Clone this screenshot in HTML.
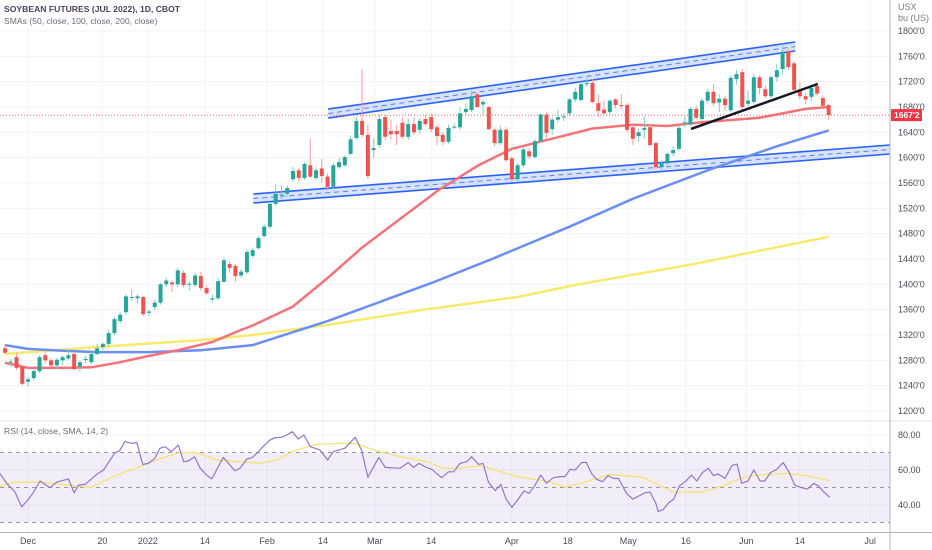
<!DOCTYPE html>
<html><head><meta charset="utf-8">
<style>
html,body{margin:0;padding:0;background:#fff;}
#wrap{position:relative;width:932px;height:550px;overflow:hidden;font-family:"Liberation Sans",sans-serif;}
svg text{font-family:"Liberation Sans",sans-serif;}
</style></head>
<body>
<div id="wrap">
<svg id="chart" width="932" height="550" xmlns="http://www.w3.org/2000/svg"></svg>
</div>
<script>
// ---- data ----
const candles = [
[1299,1305,1290,1292],[1277,1282,1270,1278],[1285,1292,1265,1268],[1270,1272,1240,1243],[1246,1254,1238,1250],
[1252,1266,1248,1263],[1263,1288,1260,1285],[1288,1292,1276,1280],[1280,1284,1268,1272],[1272,1284,1266,1281],
[1280,1288,1272,1285],[1283,1298,1280,1288],[1290,1292,1264,1266],[1270,1280,1262,1277],[1281,1288,1276,1282],
[1277,1294,1274,1290],[1290,1306,1288,1299],[1301,1308,1296,1306],[1306,1328,1302,1323],[1323,1348,1320,1345],
[1342,1356,1338,1352],[1356,1384,1352,1381],[1379,1392,1374,1380],[1378,1384,1370,1381],[1380,1382,1350,1353],
[1355,1360,1350,1357],[1364,1376,1360,1371],[1371,1402,1368,1400],[1400,1410,1396,1406],[1403,1406,1388,1400],
[1400,1426,1396,1422],[1418,1422,1395,1399],[1400,1404,1390,1401],[1399,1418,1396,1414],[1413,1420,1390,1394],
[1394,1398,1383,1386],[1376,1384,1372,1378],[1378,1410,1375,1405],[1404,1442,1402,1438],[1432,1436,1418,1426],
[1429,1432,1404,1413],[1414,1424,1410,1420],
[1419,1455,1416,1451],[1445,1458,1442,1454],[1457,1476,1455,1473],[1476,1496,1474,1491],[1491,1530,1488,1527],
[1527,1558,1524,1543],[1541,1556,1534,1542],[1543,1556,1538,1552],[1566,1585,1562,1579],[1580,1584,1562,1568],
[1568,1593,1565,1590],[1588,1630,1568,1570],[1568,1585,1564,1580],[1583,1598,1560,1571],[1570,1575,1548,1554],
[1554,1592,1552,1588],[1585,1600,1582,1593],[1588,1604,1585,1601],[1606,1635,1604,1629],[1631,1664,1628,1658],
[1658,1740,1632,1636],[1636,1652,1566,1571],[1612,1630,1600,1615],[1620,1668,1616,1661],[1664,1668,1628,1633],
[1642,1660,1628,1637],[1642,1652,1620,1637],[1655,1664,1630,1633],[1633,1662,1628,1653],
[1653,1664,1636,1640],[1644,1662,1638,1658],[1661,1668,1650,1653],[1664,1670,1640,1645],[1648,1652,1620,1634],
[1636,1640,1620,1625],[1625,1652,1622,1647],[1648,1654,1645,1649],[1648,1680,1644,1670],[1672,1686,1668,1677],
[1675,1706,1672,1697],[1700,1702,1678,1680],[1684,1692,1668,1688],[1680,1682,1644,1645],[1644,1648,1618,1623],
[1623,1650,1620,1644],[1644,1648,1594,1596],[1599,1602,1562,1566],[1566,1592,1562,1588],[1588,1616,1584,1613],
[1610,1614,1598,1602],[1601,1630,1598,1626],[1626,1670,1624,1668],[1668,1672,1630,1639],[1645,1664,1636,1660],
[1660,1676,1656,1664],[1664,1670,1658,1665],[1670,1694,1666,1692],[1692,1710,1688,1704],[1691,1720,1688,1716],
[1716,1726,1712,1718],[1718,1724,1686,1688],[1686,1700,1664,1674],[1676,1690,1668,1670],[1672,1693,1668,1690],
[1692,1694,1678,1683],[1683,1700,1676,1682],[1683,1686,1640,1644],[1648,1652,1620,1630],[1634,1646,1625,1640],
[1644,1665,1630,1647],[1648,1652,1618,1620],[1623,1625,1582,1585],[1585,1596,1580,1591],[1591,1608,1584,1606],
[1607,1618,1602,1612],[1614,1650,1610,1647],[1655,1665,1648,1656],[1653,1680,1650,1677],[1677,1682,1660,1663],
[1661,1694,1658,1690],[1690,1708,1686,1704],[1704,1716,1682,1686],[1687,1700,1672,1693],[1693,1698,1674,1683],
[1675,1730,1672,1726],[1724,1738,1715,1732],[1735,1740,1676,1680],[1685,1706,1680,1690],[1688,1732,1685,1727],
[1727,1730,1700,1710],[1708,1714,1694,1697],[1697,1730,1694,1727],[1727,1748,1720,1738],[1740,1780,1732,1767],
[1768,1772,1738,1743],[1749,1752,1704,1707],[1707,1720,1692,1697],[1697,1702,1684,1692],[1696,1714,1690,1710],
[1713,1720,1698,1701],[1694,1698,1680,1682],[1683,1685,1660,1667.2]
];
const sma50Idx = [0,4,10,15,20,25,30,36,41,43,50,56,62,69,75,82,88,95,102,109,115,121,131,139,143];
const sma50Val = [1276,1268,1268,1269,1277,1287,1296,1309,1328,1335,1365,1410,1458,1506,1547,1587,1614,1630,1646,1652,1650,1656,1663,1677,1680];
const sma100Idx = [0,4,10,16,25,34,43,56,74,84,98,109,122,134,143];
const sma100Val = [1304,1298,1295,1293,1293,1296,1304,1342,1402,1438,1491,1535,1580,1618,1643];
const sma200Idx = [0,16,34,43,56,72,89,99,119,143];
const sma200Val = [1290,1301,1312,1320,1336,1359,1380,1399,1431,1475];
const rsiIdx = [-0.9,0.3,1.7,2.9,4.0,4.9,6.1,7.8,9.0,11.0,12.0,12.8,13.9,15.9,17.1,19.1,19.9,20.8,22.0,22.9,23.9,24.9,26.0,26.9,27.8,28.9,30.1,31.0,31.8,32.9,33.9,35.0,35.9,37.9,39.9,40.8,42.0,42.9,44.0,44.8,46.0,46.9,48.0,48.9,49.9,50.9,51.9,53.0,54.7,56.0,57.0,59.0,60.8,61.9,63.0,64.9,66.0,68.6,70.0,70.9,71.9,72.9,74.1,75.8,77.0,77.9,79.0,80.2,81.0,82.2,83.0,83.9,85.1,86.1,87.0,88.0,89.1,90.1,91.0,92.0,93.0,94.0,95.2,96.4,97.2,98.1,99.0,100.1,100.9,101.9,102.7,103.7,104.7,105.6,106.5,107.9,109.0,110.0,111.1,112.0,113.0,113.4,114.3,115.2,116.1,117.1,118.1,119.2,120.1,121.1,122.1,123.0,123.8,125.0,126.2,127.1,127.9,129.0,130.0,131.1,131.9,132.9,134.0,135.1,136.1,137.1,138.3,139.3,140.4,141.2,142.1,143.2];
const rsiVal = [58.1,52.4,47.6,39.0,42.9,47.0,53.7,49.9,53.1,54.9,47.0,51.4,51.8,57.5,60.0,69.9,71.0,76.2,75.2,75.6,63.2,63.8,66.7,72.4,73.3,70.5,74.3,64.8,65.1,67.6,61.0,57.1,54.9,67.2,59.6,61.0,66.3,67.0,70.5,73.3,77.1,78.5,78.7,80.0,81.9,77.7,80.0,73.3,71.4,65.7,70.5,72.4,78.7,71.4,55.8,67.2,61.5,61.0,64.2,61.5,63.8,61.9,60.4,55.6,59.0,59.0,63.8,64.8,67.6,63.2,63.8,53.3,48.2,51.8,43.4,38.7,43.4,48.0,46.7,51.2,57.1,52.4,55.6,56.2,56.2,60.4,60.0,64.2,64.4,57.7,54.7,53.3,56.8,55.2,55.2,46.7,43.4,45.1,47.0,47.4,41.0,36.2,37.5,41.3,43.4,50.9,53.3,57.1,53.7,58.5,61.0,56.8,57.7,55.2,62.5,63.4,52.4,53.7,60.0,53.7,53.7,58.5,60.4,64.2,59.0,51.4,49.9,49.1,52.4,51.0,47.6,44.4];
const rsiMaIdx = [-0.9,1.7,6.1,11.2,14.8,18.8,23.4,26.3,30.4,33.3,36.8,40.8,44.3,47.2,50.1,54.1,58.7,61.1,64.5,68.6,73.2,76.1,79.0,80.7,83.0,88.8,94.6,97.2,100.4,105.0,110.8,116.0,120.7,124.7,127.6,130.5,135.8,138.6,143.2];
const rsiMaVal = [50.5,53.1,53.0,51.4,49.9,56.2,61.9,65.7,70.1,69.9,65.7,64.8,63.8,65.7,71.0,74.7,75.2,74.9,71.0,67.6,64.8,61.0,61.0,61.9,62.3,56.2,53.3,50.1,52.8,57.5,55.8,47.6,47.2,50.9,55.2,57.1,58.1,57.1,53.9];
const priceTicks = [1800,1760,1720,1680,1640,1600,1560,1520,1480,1440,1400,1360,1320,1280,1240,1200];
const rsiTicks = [80,60,40];
const timeLabels = ["Dec","20","2022","14","Feb","14","Mar","14","Apr","18","May","16","Jun","14","Jul"];
const timeIdx = [4,16.9,24.8,34.7,45.5,55.2,64.2,74,88,97.7,108.2,118.2,128.7,138,150.2];
const upperChannel = [[56.1,1676.8],[137.2,1782.6]];
const lowerChannel = [[43.1,1542.6],[153.6,1620]];
const trendLine = [[119.1,1645.3],[141.1,1716.3]];
const lastPrice = 1667.2;

// ---- scales ----
const X = i => 5 + i*5.76;
const Y = p => 31 + (1800-p)*0.6333;
const R = v => 435 + (80-v)*1.75;
const PW = 890;
const NS = "http://www.w3.org/2000/svg";
const svg = document.getElementById('chart');
function el(tag, attrs, parent){ const e=document.createElementNS(NS,tag); for(const k in attrs) e.setAttribute(k,attrs[k]); (parent||svg).appendChild(e); return e; }
function fmt(p){ return String(p)+"'0"; }

// grid
const grid = el('g',{});


timeIdx.forEach(i=>{ el('line',{x1:X(i),x2:X(i),y1:0,y2:532,stroke:'#f0f3fa','stroke-width':1},grid); });
priceTicks.forEach(p=>{ el('line',{x1:0,x2:PW,y1:Y(p),y2:Y(p),stroke:'#f0f3fa','stroke-width':1},grid); });
rsiTicks.forEach(v=>{ el('line',{x1:0,x2:PW,y1:R(v),y2:R(v),stroke:'#f0f3fa','stroke-width':1},grid); });

function band(pts, name){
  const g = el('g',{});
  
  
  const [a,b]=pts; const x1=X(a[0]),y1=Y(a[1]),x2=X(b[0]),y2=Y(b[1]); const h=9;
  el('polygon',{points:`${x1},${y1} ${x2},${y2} ${x2},${y2+h} ${x1},${y1+h}`,fill:'rgba(41,98,255,0.18)'},g);
  el('line',{x1,y1,x2,y2,stroke:'#2962ff','stroke-width':1.6},g);
  el('line',{x1,y1:y1+h,x2,y2:y2+h,stroke:'#2962ff','stroke-width':1.6},g);
  el('line',{x1,y1:y1+h/2,x2,y2:y2+h/2,stroke:'#5b7ff5','stroke-width':1,'stroke-dasharray':'5,4'},g);
}
band(upperChannel,'upper-channel');
band(lowerChannel,'lower-channel');

function line(idx, vals, color, name, yf, w){
  const d = idx.map((i,k)=>(k?'L':'M')+X(i).toFixed(1)+','+yf(vals[k]).toFixed(1)).join(' ');
  const p = el('path',{d,fill:'none',stroke:color,'stroke-width':w,'stroke-linejoin':'round'});
  
  
  return p;
}
line(sma200Idx,sma200Val,'#f7ea6e','sma-200-line',Y,2.5);
line(sma100Idx,sma100Val,'#6b8ff5','sma-100-line',Y,2.5);
line(sma50Idx,sma50Val,'#f37378','sma-50-line',Y,2.5);

const lp = el('line',{x1:0,x2:PW,y1:Y(lastPrice),y2:Y(lastPrice),stroke:'#f05a5a','stroke-width':1,'stroke-dasharray':'1,2'});



const cg = el('g',{});


candles.forEach((c,i)=>{
  const [o,h,l,cl]=c; const up = cl>=o; const col = up?'#26a69a':'#ef5350'; const x=X(i);
  const g = el('g',{},cg);
  
  
  el('line',{x1:x,x2:x,y1:Y(h),y2:Y(l),stroke:up?'#7fcbc3':'#f59a98','stroke-width':1},g);
  const top=Y(Math.max(o,cl)), bot=Y(Math.min(o,cl));
  el('rect',{x:x-2,y:top,width:4,height:Math.max(1,bot-top),fill:col},g);
});

const tl = el('line',{x1:X(trendLine[0][0]),y1:Y(trendLine[0][1]),x2:X(trendLine[1][0]),y2:Y(trendLine[1][1]),stroke:'#131722','stroke-width':2.5});



// RSI panel
el('line',{x1:0,x2:932,y1:421,y2:421,stroke:'#e0e3eb','stroke-width':1});
const rb = el('rect',{x:0,y:R(70),width:PW,height:R(30)-R(70),fill:'rgba(126,87,194,0.1)'});


[70,50,30].forEach(v=>{ const dl=el('line',{x1:0,x2:PW,y1:R(v),y2:R(v),stroke:'#9598a1','stroke-width':1,'stroke-dasharray':'4,4'});   });
line(rsiMaIdx,rsiMaVal,'#f5e26b','rsi-ma-line',R,1.2);
line(rsiIdx,rsiVal,'#9575cd','rsi-line',R,1.2);

// axes
el('line',{x1:PW,x2:PW,y1:0,y2:550,stroke:'#b2b5be','stroke-width':1});
el('line',{x1:0,x2:932,y1:532.5,y2:532.5,stroke:'#b2b5be','stroke-width':1});
priceTicks.forEach(p=>{ const t=el('text',{x:898,y:Y(p)+3,'font-size':9,fill:'#4a4d57'}); t.textContent=fmt(p);   });
rsiTicks.forEach(v=>{ const t=el('text',{x:898,y:R(v)+3,'font-size':9,fill:'#4a4d57'}); t.textContent=v.toFixed(2);   });
timeLabels.forEach((s,k)=>{ const t=el('text',{x:X(timeIdx[k]),y:544,'font-size':9,fill:'#4a4d57','text-anchor':'middle'}); t.textContent=s;   });
const u1=el('text',{x:898,y:10,'font-size':9,fill:'#787b86'}); u1.textContent='USX';


const u2=el('text',{x:898,y:21,'font-size':9,fill:'#787b86'}); u2.textContent='bu (US)';



const tag = el('g',{});


el('rect',{x:891,y:Y(lastPrice)-6,width:31,height:12,fill:'#f23645'},tag);
const tt=el('text',{x:894,y:Y(lastPrice)+3,'font-size':8.5,fill:'#fff','font-weight':'bold'},tag); tt.textContent="1667'2";

const t1=el('text',{x:4,y:12,'font-size':8.6,fill:'#4e3f5e','font-weight':'bold'}); t1.textContent='SOYBEAN FUTURES (JUL 2022), 1D, CBOT';


const t2=el('text',{x:4,y:24,'font-size':8.6,fill:'#6a6d78'}); t2.textContent='SMAs (50, close, 100, close, 200, close)';


const t3=el('text',{x:4,y:434,'font-size':8.6,fill:'#6a6d78'}); t3.textContent='RSI (14, close, SMA, 14, 2)';


</script>
</body></html>
